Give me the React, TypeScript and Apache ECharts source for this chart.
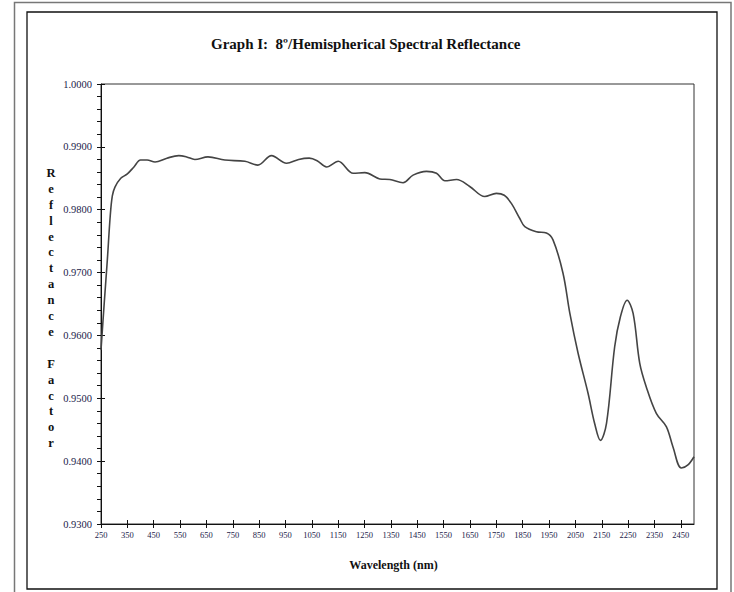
import React, { useEffect, useRef } from "react";
import * as echarts from "echarts";

const wavelengths = [
  250, 262, 274, 285, 293, 303, 325, 350, 375, 400, 425, 455, 500, 545, 575, 606, 656, 720, 796, 845,
  897, 954, 1000, 1040, 1070, 1106, 1150, 1207, 1251, 1308, 1346, 1396, 1434, 1485, 1523, 1555, 1599,
  1649, 1706, 1750, 1780, 1807, 1839, 1858, 1902, 1940, 1965, 2003, 2029, 2060, 2098, 2123, 2145, 2168,
  2199, 2221, 2246, 2269, 2294, 2319, 2357, 2395, 2420, 2452, 2477, 2500,
];
const reflectance = [
  0.9577, 0.965, 0.972, 0.979, 0.9822, 0.9836, 0.985, 0.9857, 0.9868, 0.9879, 0.9879, 0.9876, 0.9882,
  0.9886, 0.9884, 0.988, 0.9884, 0.9879, 0.9877, 0.9871, 0.9886, 0.9874, 0.988, 0.9882, 0.9878, 0.9868,
  0.9877, 0.9858, 0.9859, 0.9849, 0.9848, 0.9843, 0.9855, 0.9861, 0.9858, 0.9846, 0.9848, 0.9837, 0.9821,
  0.9826, 0.9823, 0.981, 0.9786, 0.9773, 0.9765, 0.9763, 0.9752, 0.9699, 0.9635, 0.9572, 0.9508, 0.946,
  0.9433, 0.946, 0.9582, 0.963, 0.9656, 0.9635, 0.9556, 0.9518, 0.9476, 0.9455, 0.9423, 0.9389, 0.9394,
  0.9407,
];
const xTickValues = [
  250, 350, 450, 550, 650, 750, 850, 950, 1050, 1150, 1250, 1350, 1450, 1550, 1650, 1750, 1850, 1950,
  2050, 2150, 2250, 2350, 2450,
];
const titleText = "Graph I:  8º/Hemispherical Spectral Reflectance";
const xAxisTitle = "Wavelength (nm)";
const yAxisTitleLetters = ["R", "e", "f", "l", "e", "c", "t", "a", "n", "c", "e", "", "F", "a", "c", "t", "o", "r"];

const SERIF = "Liberation Serif";
const LABEL_COLOR = "#22224a";

export default function App() {
  const ref = useRef<HTMLDivElement>(null);
  useEffect(() => {
    if (!ref.current) return;
    const chart = echarts.init(ref.current, undefined, { renderer: "svg" });
    const data = wavelengths.map((w, i) => [w, reflectance[i]]);
    const yBase = {
      type: "value",
      min: 0.93,
      max: 1.0,
      interval: 0.01,
      position: "left",
      splitLine: { show: false },
    };
    const xBase = {
      type: "value",
      min: 250,
      max: 2500,
      position: "bottom",
      splitLine: { show: false },
    };
    chart.setOption({
      animation: false,
      backgroundColor: "#ffffff",
      textStyle: { fontFamily: SERIF },
      grid: {
        left: 101,
        right: 40,
        top: 84,
        bottom: 68,
        show: true,
        borderColor: "#333",
        borderWidth: 1,
        backgroundColor: "transparent",
      },
      title: {
        text: titleText,
        left: 206,
        top: 31,
        textStyle: { fontFamily: SERIF, fontSize: 15, fontWeight: "bold", color: "#111" },
      },
      xAxis: [
        {
          ...xBase,
          axisLine: { show: true, lineStyle: { color: "#111", width: 1 } },
          axisTick: {
            show: true,
            customValues: xTickValues,
            length: 4,
            lineStyle: { color: "#111" },
          },
          axisLabel: {
            customValues: xTickValues,
            fontFamily: SERIF,
            fontSize: 8.5,
            color: LABEL_COLOR,
            margin: 6,
            formatter: (v: number) => String(v),
          },
          name: xAxisTitle,
          nameLocation: "middle",
          nameGap: 35,
          nameTextStyle: { fontFamily: SERIF, fontSize: 12, fontWeight: "bold", color: "#111", padding: [0, 8, 0, 0] },
        },
        {
          ...xBase,
          axisLine: { show: false },
          axisTick: {
            show: true,
            inside: true,
            customValues: xTickValues,
            length: 4,
            lineStyle: { color: "#111" },
          },
          axisLabel: { show: false },
        },
      ],
      yAxis: [
        {
          ...yBase,
          axisLine: { show: true, lineStyle: { color: "#111", width: 1 } },
          axisTick: { show: true, length: 4, lineStyle: { color: "#111" } },
          minorTick: { show: true, splitNumber: 5, length: 4, lineStyle: { color: "#111" } },
          axisLabel: {
            fontFamily: SERIF,
            fontSize: 10.5,
            color: LABEL_COLOR,
            margin: 9,
            formatter: (v: number) => v.toFixed(4),
          },
        },
        {
          ...yBase,
          axisLine: { show: false },
          axisTick: { show: true, inside: true, length: 4, lineStyle: { color: "#111" } },
          axisLabel: { show: false },
        },
      ],
      graphic: [
        {
          type: "rect",
          shape: { x: 14.5, y: 2.5, width: 716.5, height: 620 },
          style: { fill: "none", stroke: "#777", lineWidth: 1.5 },
          silent: true,
        },
        {
          type: "rect",
          shape: { x: 27, y: 12, width: 690, height: 577 },
          style: { fill: "none", stroke: "#111", lineWidth: 1.3 },
          silent: true,
        },
        {
          type: "text",
          x: 51,
          y: 165,
          style: {
            text: yAxisTitleLetters.join("\n"),
            fontFamily: SERIF,
            fontSize: 12.5,
            fontWeight: "bold",
            lineHeight: 15.9,
            align: "center",
            verticalAlign: "top",
            fill: "#111",
          },
          silent: true,
        },
      ],
      series: [
        {
          type: "line",
          xAxisIndex: 0,
          yAxisIndex: 0,
          data,
          smooth: 0.35,
          showSymbol: false,
          symbol: "none",
          lineStyle: { color: "#444", width: 1.6 },
        },
      ],
    });
    return () => chart.dispose();
  }, []);
  return (
    <div
      ref={ref}
      style={{ position: "absolute", left: 0, top: 0, width: 734, height: 592 }}
    />
  );
}
